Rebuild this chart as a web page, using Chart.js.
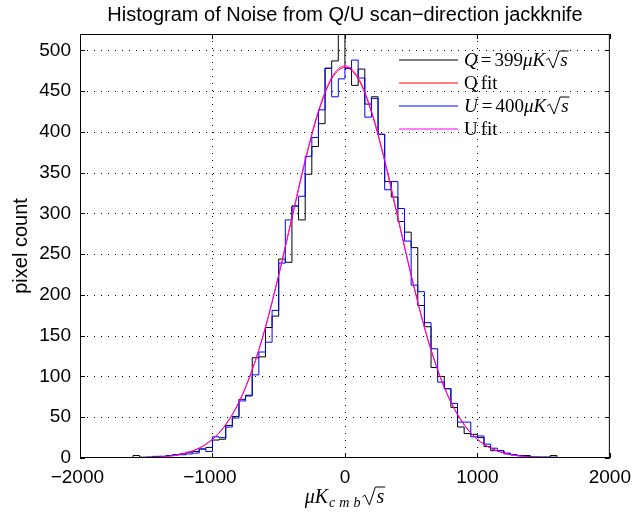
<!DOCTYPE html>
<html>
<head>
<meta charset="utf-8">
<script src="https://cdn.jsdelivr.net/npm/chart.js@4.4.1/dist/chart.umd.min.js"></script>
<style>
  html, body { margin: 0; padding: 0; background: #fff; }
  #wrap { width: 639px; height: 519px; }
</style>
</head>
<body>
<div id="wrap"><canvas id="chart" width="639" height="519"></canvas></div>
<script>
// histogram bins: 50 uK wide, first left edge at -1650
const binStart = -1650;
const binWidth = 50;

// Q scan-direction jackknife counts (black)
const qCounts = [0, 3, 1, 1, 2, 2, 3, 4, 5, 7, 8, 11, 13, 22, 23, 40, 51, 72, 77, 123,
  124, 160, 174, 244, 240, 309, 292, 348, 382, 410, 478, 487, 545, 478, 457, 477, 434, 443, 397, 339,
  320, 290, 277, 258, 187, 161, 111, 100, 85, 62, 38, 30, 29, 25, 14, 9, 9, 5, 4, 3,
  3, 1, 1, 1, 3, 0];
// U counts (blue)
const uCounts = [0, 0, 0, 1, 1, 2, 3, 4, 4, 5, 6, 11, 8, 26, 25, 38, 49, 70, 76, 102,
  130, 142, 181, 239, 292, 309, 321, 370, 393, 427, 478, 443, 465, 478, 488, 466, 418, 441, 397, 329,
  339, 306, 266, 212, 204, 166, 134, 93, 85, 67, 44, 44, 26, 27, 17, 12, 9, 6, 4, 3,
  2, 1, 1, 1, 1, 0];

// gaussian fits
const fitX = [-2000, -1900, -1800, -1700, -1600, -1500, -1400, -1300, -1200, -1100, -1000,
  -900, -800, -700, -600, -500, -400, -300, -200, -100, 0, 100, 200, 300, 400, 500, 600, 700,
  800, 900, 1000, 1100, 1200, 1300, 1400, 1500, 1600, 1700, 1800, 1900, 2000];
const qFit = [0, 0, 0, 0, 0.2, 0.5, 1.3, 2.9, 6.2, 12.3, 23, 41, 68.5, 108, 160, 224, 294, 364, 424, 465,
  479, 465, 424, 364, 294, 224, 160, 108, 68.5, 41, 23, 12.3, 6.2, 2.9, 1.3, 0.5, 0.2, 0, 0, 0, 0];
const uFit = [0, 0, 0, 0, 0.2, 0.5, 1.2, 2.8, 6, 12, 22.8, 40.7, 68.4, 108, 160.5, 224.5, 295.3, 365.6, 425.8, 466.6,
  481, 466.6, 425.8, 365.6, 295.3, 224.5, 160.5, 108, 68.4, 40.7, 22.8, 12, 6, 2.8, 1.2, 0.5, 0.2, 0, 0, 0, 0];

const xTicks = [-2000, -1000, 0, 1000, 2000];
const yTicks = [0, 50, 100, 150, 200, 250, 300, 350, 400, 450, 500];

const SANS = '"Liberation Sans", Arial, sans-serif';
const SERIF = '"Liberation Serif", "Times New Roman", serif';

function stairs(counts) {
  const pts = counts.map((c, i) => ({ x: binStart + i * binWidth, y: c }));
  pts.push({ x: binStart + counts.length * binWidth, y: counts[counts.length - 1] });
  return pts;
}
function curve(ys) {
  return ys.map((y, i) => ({ x: fitX[i], y: y }));
}

// draws a run of text pieces, returns the end x
function drawRich(ctx, x, y, parts) {
  parts.forEach(p => {
    ctx.font = p.f;
    x += p.dx || 0;
    if (p.sqrt) {
      const w = ctx.measureText(p.sqrt).width;
      const h = p.h || 15;
      ctx.save();
      ctx.lineWidth = 1;
      ctx.strokeStyle = '#000';
      ctx.beginPath();
      ctx.moveTo(x, y - 6);
      ctx.lineTo(x + 2.5, y - 8);
      ctx.lineTo(x + 7, y + 2);
      ctx.lineTo(x + 13, y - h);
      ctx.lineTo(x + 14 + w + 1, y - h);
      ctx.stroke();
      ctx.restore();
      ctx.fillText(p.sqrt, x + 14, y);
      x += 14 + w + 1;
    } else if (p.spaced) {
      p.t.split('').forEach(ch => {
        ctx.fillText(ch, x, y + (p.dy || 0));
        x += ctx.measureText(ch).width + p.spaced;
      });
      x -= p.spaced;
    } else {
      ctx.fillText(p.t, x, y + (p.dy || 0));
      x += ctx.measureText(p.t).width;
    }
    x += p.after || 0;
  });
  return x;
}
function richWidth(ctx, parts) {
  ctx.save();
  ctx.globalAlpha = 0;
  const w = drawRich(ctx, 0, -100, parts);
  ctx.restore();
  return w;
}

const matlabFrame = {
  id: 'matlabFrame',
  beforeDatasetsDraw(chart) {
    const { ctx, chartArea: a, scales } = chart;
    ctx.save();
    ctx.strokeStyle = '#000';
    ctx.lineWidth = 1;
    ctx.setLineDash([1, 6]);
    yTicks.forEach(v => {
      if (v === 0) return;
      const py = Math.round(scales.y.getPixelForValue(v)) + 0.5;
      ctx.beginPath(); ctx.moveTo(a.left, py); ctx.lineTo(a.right, py); ctx.stroke();
    });
    xTicks.forEach(v => {
      if (v === xTicks[0] || v === xTicks[xTicks.length - 1]) return;
      const px = Math.round(scales.x.getPixelForValue(v)) + 0.5;
      ctx.beginPath(); ctx.moveTo(px, a.top); ctx.lineTo(px, a.bottom); ctx.stroke();
    });
    ctx.restore();
  },
  afterDatasetsDraw(chart) {
    const { ctx, chartArea: a, scales } = chart;
    ctx.save();
    ctx.strokeStyle = '#000';
    ctx.lineWidth = 1;
    ctx.strokeRect(a.left + 0.5, a.top + 0.5, a.right - a.left - 1, a.bottom - a.top - 1);
    const tl = 5;
    ctx.beginPath();
    yTicks.forEach(v => {
      const py = Math.round(scales.y.getPixelForValue(v)) + 0.5;
      ctx.moveTo(a.left, py); ctx.lineTo(a.left + tl, py);
      ctx.moveTo(a.right, py); ctx.lineTo(a.right - tl, py);
    });
    xTicks.forEach(v => {
      const px = Math.round(scales.x.getPixelForValue(v)) + 0.5;
      ctx.moveTo(px, a.bottom); ctx.lineTo(px, a.bottom - tl);
      ctx.moveTo(px, a.top); ctx.lineTo(px, a.top + tl);
    });
    ctx.stroke();

    // title
    ctx.fillStyle = '#000';
    ctx.textAlign = 'center';
    ctx.textBaseline = 'alphabetic';
    ctx.font = '20px ' + SANS;
    ctx.fillText('Histogram of Noise from Q/U scan\u2212direction jackknife', (a.left + a.right) / 2, 21);

    // y axis title
    ctx.save();
    ctx.translate(27, (a.top + a.bottom) / 2);
    ctx.rotate(-Math.PI / 2);
    ctx.font = '20px ' + SANS;
    ctx.fillText('pixel count', 0, 0);
    ctx.restore();

    // x axis title
    ctx.textAlign = 'left';
    const it = 'italic 20px ' + SERIF;
    const xParts = [
      { t: '\u03bcK', f: it },
      { t: 'cmb', f: 'italic 14px ' + SERIF, dy: 4, spaced: 4, dx: 1 },
      { sqrt: 's', f: it, h: 16, dx: 2 }
    ];
    const xw = richWidth(ctx, xParts);
    drawRich(ctx, (a.left + a.right) / 2 - xw / 2, 503, xParts);

    // legend (no box)
    const it19 = 'italic 19px ' + SERIF;
    const rm = '19px ' + SERIF;
    const entries = [
      { color: '#000000', parts: [{ t: 'Q', f: it19, after: 3 }, { t: '=', f: rm, after: 3 }, { t: '399', f: rm }, { t: '\u03bcK', f: it19 }, { sqrt: 's', f: it19, dx: 1 }] },
      { color: '#ff0000', parts: [{ t: 'Q', f: rm }, { t: 'fit', f: rm, dx: 3 }] },
      { color: '#0000ff', parts: [{ t: 'U', f: it19, after: 4 }, { t: '=', f: rm, after: 3 }, { t: '400', f: rm }, { t: '\u03bcK', f: it19 }, { sqrt: 's', f: it19, dx: 1 }] },
      { color: '#ff00ff', parts: [{ t: 'U', f: rm }, { t: 'fit', f: rm, dx: 3 }] }
    ];
    const legY = [60, 83, 106, 129];
    entries.forEach((e, i) => {
      ctx.save();
      ctx.strokeStyle = e.color;
      ctx.lineWidth = 1.2;
      ctx.beginPath();
      ctx.moveTo(399, legY[i]); ctx.lineTo(458, legY[i]);
      ctx.stroke();
      ctx.restore();
      drawRich(ctx, 464, legY[i] + 6, e.parts);
    });
    ctx.restore();
  }
};

const lineBase = { pointRadius: 0, borderWidth: 1, fill: false };

new Chart(document.getElementById('chart'), {
  type: 'line',
  data: {
    datasets: [
      Object.assign({ label: 'Q', data: stairs(qCounts), borderColor: '#000000', stepped: true, order: 4 }, lineBase),
      Object.assign({ label: 'Qfit', data: curve(qFit), borderColor: '#ff0000', cubicInterpolationMode: 'monotone', order: 3 }, lineBase),
      Object.assign({ label: 'U', data: stairs(uCounts), borderColor: '#0000ff', stepped: true, order: 2 }, lineBase),
      Object.assign({ label: 'Ufit', data: curve(uFit), borderColor: '#ff00ff', cubicInterpolationMode: 'monotone', order: 1 }, lineBase)
    ]
  },
  options: {
    responsive: false,
    animation: false,
    devicePixelRatio: 1,
    layout: { padding: { top: 34, right: 23, left: 0, bottom: 0 } },
    plugins: { legend: { display: false }, title: { display: false }, tooltip: { enabled: false } },
    scales: {
      x: {
        type: 'linear', min: -2000, max: 2000,
        grid: { display: false, drawTicks: false, tickLength: 0 }, border: { display: false },
        afterFit: s => { s.height = 61; },
        afterBuildTicks: s => { s.ticks = xTicks.map(v => ({ value: v })); },
        ticks: {
          color: '#000', padding: 8, maxRotation: 0, autoSkip: false,
          font: { family: SANS, size: 19 },
          // matlab lets the minus sign hang a little to the left
          callback: v => (v < 0 ? '\u2212' + Math.abs(v) + ' ' : String(v))
        }
      },
      y: {
        type: 'linear', min: 0, max: 520,
        grid: { display: false, drawTicks: false, tickLength: 0 }, border: { display: false },
        afterFit: s => { s.width = 80; },
        afterBuildTicks: s => { s.ticks = yTicks.map(v => ({ value: v })); },
        ticks: {
          color: '#000', padding: 9, autoSkip: false,
          font: { family: SANS, size: 19 }
        }
      }
    }
  },
  plugins: [matlabFrame]
});
</script>
</body>
</html>
